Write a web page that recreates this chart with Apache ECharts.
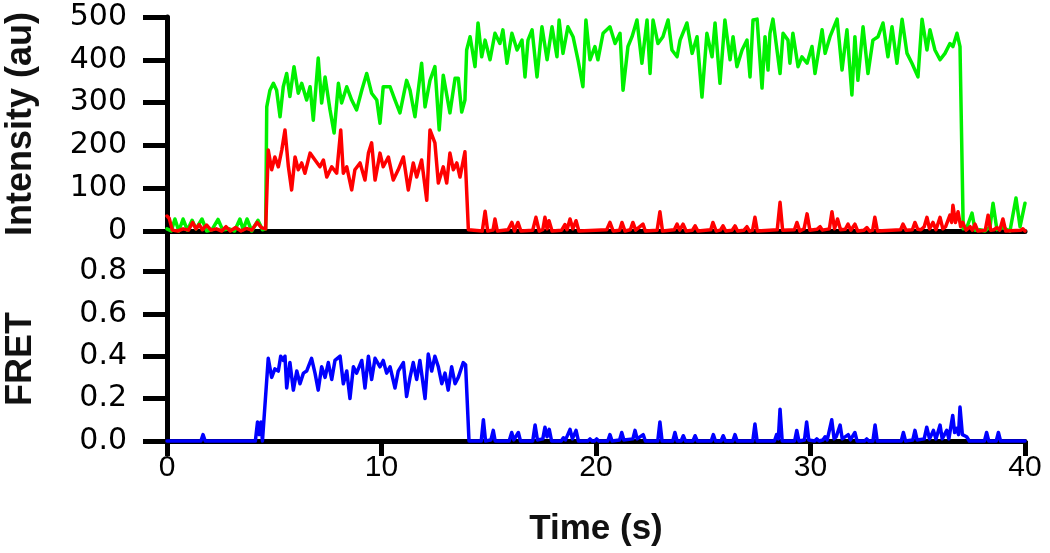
<!DOCTYPE html>
<html>
<head>
<meta charset="utf-8">
<script src="https://cdn.jsdelivr.net/npm/echarts@6/dist/echarts.min.js"></script>
<style>html,body{margin:0;padding:0;background:#fff}#c{width:1050px;height:553px}</style>
</head>
<body>
<div id="c"></div>
<script>
// ---- data (time in s, intensity in au, FRET efficiency) ----
const xTicks = [0, 10, 20, 30, 40];
const intensityTicks = [0, 100, 200, 300, 400, 500];
const fretTicks = [0.0, 0.2, 0.4, 0.6, 0.8];

const greenT = [0.0,0.2,0.37,0.55,0.75,0.95,1.17,1.35,1.63,1.85,2.1,2.38,2.6,2.9,3.15,3.4,3.55,3.73,3.95,4.24,4.45,4.6,
4.65,4.80,4.96,5.11,5.27,5.42,5.58,5.73,5.92,6.12,6.28,6.51,6.67,6.82,7.05,7.21,7.37,7.60,7.79,7.99,8.14,8.38,8.61,8.84,9.08,9.31,9.54,9.78,9.93,10.08,10.40,10.63,10.86,11.17,11.33,11.56,11.87,12.03,12.26,12.49,12.69,12.88,13.19,13.43,13.58,13.74,13.89,13.97,
14.13,14.36,14.50,14.67,14.83,15.06,15.29,15.52,15.66,15.85,16.08,16.32,16.55,16.69,16.83,17.02,17.25,17.48,17.72,17.95,18.18,18.28,18.46,18.69,18.93,19.16,19.39,19.53,19.72,19.95,20.09,20.33,20.65,20.89,21.12,21.26,21.49,21.68,21.91,22.14,22.38,22.52,22.66,22.89,23.12,23.36,23.54,23.78,23.92,24.24,24.48,24.71,24.94,25.17,25.41,25.55,25.78,26.01,26.25,26.39,26.57,26.81,27.04,27.18,
27.32,27.51,27.74,27.88,28.02,28.11,28.25,28.58,28.72,28.95,29.04,29.18,29.42,29.60,29.84,30.07,30.21,30.54,30.68,30.91,31.24,31.47,31.70,31.93,32.07,32.21,32.45,32.68,32.91,33.15,33.38,33.61,33.80,34.03,34.27,34.50,34.73,35.01,35.20,35.43,35.57,35.80,36.04,36.27,36.50,36.64,36.83,36.97,
37.12,37.30,37.53,37.67,37.90,38.14,38.37,38.51,38.69,38.97,39.30,39.58,39.77,40.0];
const greenV = [5,0,28,0,28,2,25,5,28,0,3,27,2,5,0,28,3,28,0,25,3,5,
290,329,345,329,267,337,368,314,384,322,345,306,337,259,404,299,360,283,229,345,299,337,306,283,329,368,322,306,252,337,337,306,276,352,329,267,392,290,352,384,236,364,276,357,357,278,306,423,
454,384,486,407,446,400,462,438,470,392,462,423,446,360,446,470,360,477,400,477,407,493,415,477,454,400,337,493,400,431,400,462,477,438,462,329,431,454,493,392,493,368,493,438,454,493,423,407,446,486,415,454,313,462,407,486,345,493,400,454,384,423,446,360,
493,495,334,454,376,462,495,368,462,446,392,462,384,407,392,431,368,470,415,454,495,376,470,318,454,352,477,368,446,454,486,407,477,392,495,415,392,360,495,423,470,423,400,415,438,431,462,431,
5,10,42,2,3,0,10,65,3,8,0,77,10,65];

const redT = [0.0,0.1,0.25,0.5,0.75,1.0,1.2,1.35,1.5,1.65,1.85,2.05,2.3,2.55,2.75,2.95,3.2,3.45,3.7,3.95,4.2,4.4,4.6,
4.72,4.88,5.03,5.19,5.35,5.50,5.66,5.81,5.97,6.12,6.28,6.43,6.67,6.90,7.13,7.29,7.45,7.68,7.91,8.10,8.22,8.38,8.61,8.76,9.00,9.23,9.39,9.54,9.70,9.93,10.08,10.32,10.55,10.78,11.02,11.25,11.48,11.64,11.87,12.11,12.26,12.49,12.65,12.88,13.04,13.19,13.35,13.51,13.66,13.89,
14.05,14.7,14.83,14.95,15.2,15.29,15.4,15.9,16.08,16.2,16.36,16.5,17.05,17.2,17.35,17.52,17.62,17.72,17.81,17.95,18.4,18.55,18.65,18.79,18.92,19.07,19.2,20.5,20.65,20.8,21.1,21.21,21.35,21.6,21.72,21.85,22.19,22.3,22.85,22.98,23.1,23.65,23.78,23.9,24.06,24.2,24.5,24.62,24.75,25.35,25.45,25.6,25.8,25.92,26.05,26.35,26.48,26.6,26.9,27.04,27.15,27.3,27.41,27.52,
28.45,28.58,28.7,29.25,29.37,29.5,29.7,29.84,29.97,30.3,30.45,30.55,30.88,31.0,31.12,31.26,31.4,31.62,31.75,31.88,32.07,32.2,32.5,32.63,32.75,32.9,33.0,33.12,34.2,34.31,34.45,34.75,34.87,35.0,35.15,35.3,35.43,35.55,35.71,35.85,36.04,36.17,36.3,36.5,36.58,36.64,36.76,36.88,37.0,37.1,37.25,37.44,37.55,37.67,37.8,38.15,38.28,38.4,38.55,38.69,38.82,38.97,39.1,39.8,39.9,40.0];
const redV = [35,30,2,0,5,2,20,5,15,3,14,2,5,0,10,0,8,0,6,2,20,8,5,
189,143,173,150,189,236,150,96,173,143,159,135,182,166,150,166,126,150,135,236,135,150,96,143,159,119,182,206,119,182,150,173,119,143,173,96,159,126,166,72,236,206,112,150,112,182,143,159,126,185,
3,0,46,0,2,28,0,3,20,0,20,0,2,32,0,3,32,5,24,0,2,15,3,28,5,24,0,3,20,0,2,20,0,3,20,2,16,0,2,45,0,3,16,2,16,0,2,12,0,3,20,0,2,12,0,2,12,0,2,10,0,2,32,0,
3,67,2,3,20,0,5,40,2,4,10,2,5,45,5,28,3,4,16,2,16,0,2,8,0,2,32,0,3,16,2,3,20,4,3,10,32,5,20,3,32,5,10,37,20,60,20,45,10,20,2,10,2,16,0,2,37,2,3,8,2,28,0,2,5,0];

const blueT = [0.0,1.58,1.68,1.78,4.12,4.22,4.3,4.38,4.45,
4.72,4.88,5.03,5.19,5.30,5.42,5.50,5.58,5.73,5.89,6.05,6.20,6.36,6.51,6.74,6.90,7.05,7.21,7.37,7.52,7.68,7.83,8.07,8.22,8.38,8.53,8.69,8.84,9.08,9.23,9.39,9.54,9.70,9.93,10.08,10.24,10.40,10.63,10.78,11.02,11.17,11.33,11.48,11.64,11.79,12.03,12.18,12.34,12.49,12.65,12.81,12.96,13.11,13.27,13.43,13.58,13.81,13.92,
14.08,14.65,14.75,14.85,15.1,15.21,15.3,15.95,16.07,16.17,16.38,16.48,17.05,17.16,17.27,17.52,17.62,17.72,17.82,17.93,18.38,18.48,18.58,18.79,18.9,19.07,19.18,19.62,19.72,19.82,19.93,20.03,20.13,20.55,20.65,20.75,21.1,21.2,21.3,21.72,21.82,21.92,22.2,22.3,22.88,22.98,23.08,23.58,23.68,23.78,23.97,24.07,24.17,24.52,24.62,24.72,25.37,25.47,25.57,25.83,25.93,26.03,26.38,26.48,26.58,27.31,27.41,27.51,
28.32,28.42,28.5,28.58,28.68,29.26,29.36,29.46,29.72,29.82,29.92,30.19,30.29,30.4,30.58,30.68,30.78,30.99,31.1,31.2,31.38,31.48,31.76,31.86,32.07,32.17,32.52,32.62,32.72,32.91,33.01,33.11,34.23,34.33,34.43,34.77,34.87,34.97,35.3,35.42,35.55,35.73,35.85,36.04,36.14,36.35,36.45,36.63,36.72,36.82,36.9,36.97,37.08,37.28,37.4,38.11,38.21,38.31,38.66,38.76,38.86,40.0];
const blueV = [0,0,0.03,0,0,0.09,0.03,0.09,0,
0.39,0.30,0.34,0.33,0.40,0.38,0.40,0.25,0.37,0.24,0.33,0.27,0.32,0.33,0.39,0.32,0.24,0.35,0.30,0.37,0.29,0.38,0.40,0.27,0.33,0.20,0.35,0.32,0.38,0.25,0.40,0.29,0.39,0.35,0.38,0.32,0.35,0.25,0.33,0.37,0.21,0.30,0.37,0.29,0.38,0.20,0.41,0.33,0.40,0.35,0.27,0.32,0.24,0.35,0.27,0.30,0.37,0.36,
0,0,0.10,0,0.005,0.05,0,0,0.04,0.005,0.04,0,0,0.075,0.005,0.01,0.065,0.02,0.055,0,0,0.015,0.005,0.055,0.01,0.05,0,0,0.01,0,0,0.01,0,0,0.03,0,0.005,0.04,0.005,0.01,0.05,0.01,0.03,0,0,0.09,0,0,0.04,0,0,0.025,0,0,0.025,0,0,0.03,0,0,0.025,0,0,0.03,0,0,0.08,0,
0,0.03,0.01,0.15,0,0,0.05,0,0.005,0.09,0.005,0,0.01,0,0.005,0.02,0.005,0.10,0.01,0.02,0.075,0.01,0.03,0.005,0.04,0,0,0.01,0,0,0.075,0,0,0.04,0,0.005,0.05,0.005,0.01,0.065,0.01,0.05,0.01,0.075,0.01,0.05,0.01,0.12,0.04,0.06,0.03,0.16,0.03,0.02,0,0,0.04,0,0,0.04,0,0];

const zip = (T, V) => T.map((t, i) => [t, V[i]]);

const chart = echarts.init(document.getElementById('c'));
const axisBlack = { lineStyle: { color: '#000', width: 5 } };
const fontTick = 'Liberation Sans, Arial, sans-serif';

chart.setOption({
  animation: false,
  backgroundColor: '#fff',
  textStyle: { fontFamily: fontTick, color: '#000' },
  grid: [
    { left: 167, right: 25, top: 17, height: 214, outerBoundsMode: 'none', containLabel: false },
    { left: 167, right: 25, top: 229, height: 212, outerBoundsMode: 'none', containLabel: false }
  ],
  xAxis: [
    { gridIndex: 0, type: 'value', min: xTicks[0], max: xTicks[xTicks.length-1], interval: 10,
      axisLine: axisBlack, axisTick: { show: false }, axisLabel: { show: false }, splitLine: { show: false } },
    { gridIndex: 1, type: 'value', min: xTicks[0], max: xTicks[xTicks.length-1], interval: 10,
      axisLine: axisBlack,
      axisTick: { show: true, inside: false, length: 15, lineStyle: { color: '#000', width: 5 } },
      axisLabel: { fontSize: 30, color: '#000', margin: 12, fontFamily: fontTick },
      splitLine: { show: false },
      name: 'Time (s)', nameLocation: 'middle', nameGap: 71,
      nameTextStyle: { fontSize: 35, fontWeight: 'bold', color: '#111', fontFamily: fontTick } }
  ],
  yAxis: [
    { gridIndex: 0, type: 'value', min: intensityTicks[0], max: intensityTicks[intensityTicks.length-1], interval: 100,
      axisLine: { show: true, lineStyle: { color: '#000', width: 5 } },
      axisTick: { show: true, inside: false, length: 24, lineStyle: { color: '#000', width: 5 } },
      axisLabel: { fontSize: 30, color: '#000', margin: 40, fontFamily: 'DejaVu Sans, sans-serif' },
      splitLine: { show: false },
      name: 'Intensity (au)', nameLocation: 'middle', nameGap: 128,
      nameTextStyle: { fontSize: 36, fontWeight: 'bold', color: '#111', fontFamily: fontTick } },
    { gridIndex: 1, type: 'value', min: 0, max: 1, interval: 0.2,
      axisLine: { show: true, lineStyle: { color: '#000', width: 5 } },
      axisTick: { show: true, inside: false, length: 24, lineStyle: { color: '#000', width: 5 } },
      axisLabel: { fontSize: 30, color: '#000', margin: 40, fontFamily: 'DejaVu Sans, sans-serif',
        showMaxLabel: false,
        formatter: v => (fretTicks.some(f => Math.abs(f - v) < 1e-9) ? v.toFixed(1) : '') },
      splitLine: { show: false },
      name: 'FRET', nameLocation: 'middle', nameGap: 128,
      nameTextStyle: { fontSize: 36, fontWeight: 'bold', color: '#111', fontFamily: fontTick, padding: [0, 48, 0, 0] } }
  ],
  series: [
    { type: 'line', xAxisIndex: 0, yAxisIndex: 0, data: zip(greenT, greenV), showSymbol: false, clip: false,
      lineStyle: { color: '#00f000', width: 3.5, join: 'round', cap: 'round' }, z: 3 },
    { type: 'line', xAxisIndex: 0, yAxisIndex: 0, data: zip(redT, redV), showSymbol: false, clip: false,
      lineStyle: { color: '#ff0000', width: 3.5, join: 'round', cap: 'round' }, z: 4 },
    { type: 'line', xAxisIndex: 1, yAxisIndex: 1, data: zip(blueT, blueV), showSymbol: false, clip: false,
      lineStyle: { color: '#0000ff', width: 3.5, join: 'round', cap: 'round' }, z: 4 }
  ]
});
</script>
</body>
</html>
